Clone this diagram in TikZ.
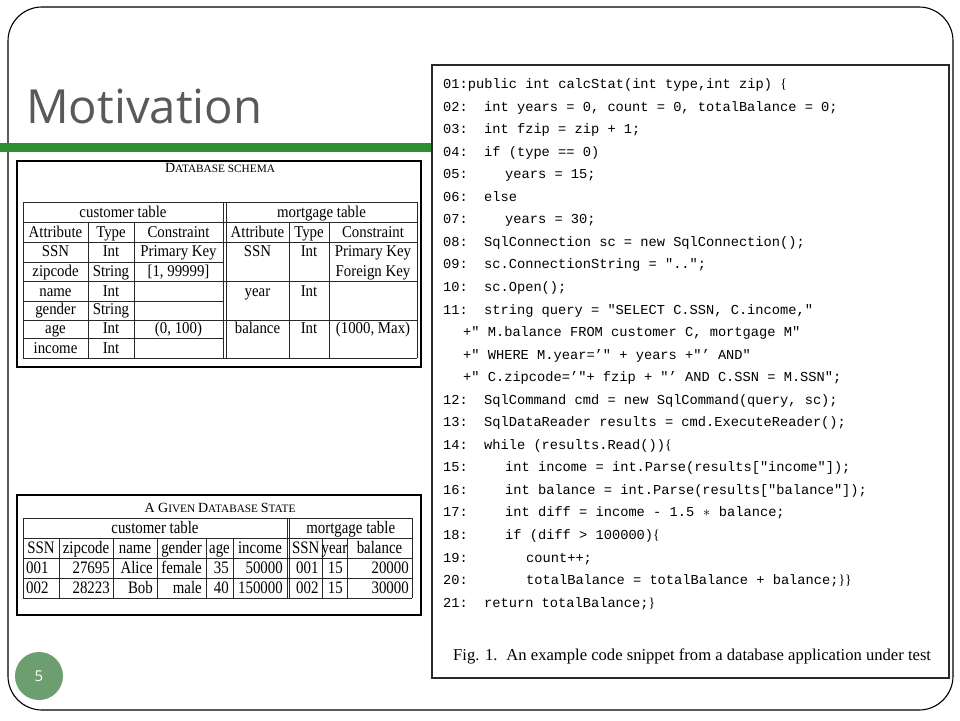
\documentclass[tikz,border=0pt]{standalone}
\usepackage{fontspec}
\usepackage{graphicx}
\setmainfont{Liberation Serif}
\newfontfamily\codefont{Liberation Mono}
\newfontfamily\titlefont{Open Sans}
\newfontfamily\seriffont{Liberation Serif}
\newcommand\cbL{{\seriffont\{}}
\newcommand\cbR{{\seriffont\}}}
\newcommand\sxa[1]{\scalebox{0.9}[1]{#1}}
\newcommand\sxb[1]{\scalebox{0.85}[1]{#1}}
\definecolor{titlegray}{RGB}{89,89,89}
\definecolor{bargreen}{RGB}{46,142,50}
\definecolor{pgreen}{RGB}{108,158,112}
\definecolor{rulecol}{RGB}{40,40,40}
\tikzset{
  codetxt/.style={anchor=base west, inner sep=0pt, font=\codefont\fontsize{13.7}{16}\selectfont},
  cellc/.style={anchor=base, inner sep=0pt, font=\fontsize{16.5}{19}\selectfont},
  statec/.style={anchor=base, inner sep=0pt, font=\fontsize{17.5}{20}\selectfont},
  statel/.style={anchor=base west, inner sep=0pt, font=\fontsize{17.5}{20}\selectfont},
  stater/.style={anchor=base east, inner sep=0pt, font=\fontsize{17.5}{20}\selectfont},
  tabrule/.style={draw=rulecol, line width=1pt},
  boxrule/.style={draw=black, line width=1.2pt},
}
\newcommand\codeline[4]{%
  \node[codetxt] (num#1) at (443,{88.5+22.55*#1}) {#2};
  \node[codetxt] (txt#1) at (#3,{88.5+22.55*#1}) {#4};}
\newcommand\contline[2]{%
  \node[codetxt] (txt#1) at (463,{88.5+22.55*#1}) {#2};}
\begin{document}
\begin{tikzpicture}[x=1pt,y=-1pt]
\useasboundingbox (0,0) rectangle (960,720);
\fill[white] (0,0) rectangle (960,720);
% slide frame
\draw[line width=1.1pt, rounded corners=34pt] (8,7) rectangle (953,710);
% title
\node[anchor=base west, inner sep=0pt, text=titlegray] (title) at (26,123)
  {\resizebox{236pt}{34.5pt}{\titlefont Motivation}};
% green bar
\fill[bargreen] (0,143) rectangle (432,152);
% code box
\draw[fill=white, draw=rulecol, line width=1.4pt] (432,65) rectangle (949,678);
% code
\node[codetxt] (txt0) at (443,88.5) {01:public int calcStat(int type,int zip) \cbL};
\codeline{1}{02:}{484}{int years = 0, count = 0, totalBalance = 0;}
\codeline{2}{03:}{484}{int fzip = zip + 1;}
\codeline{3}{04:}{484}{if (type == 0)}
\codeline{4}{05:}{505}{years = 15;}
\codeline{5}{06:}{484}{else}
\codeline{6}{07:}{505}{years = 30;}
\codeline{7}{08:}{484}{SqlConnection sc = new SqlConnection();}
\codeline{8}{09:}{484}{sc.ConnectionString = "..";}
\codeline{9}{10:}{484}{sc.Open();}
\codeline{10}{11:}{484}{string query = "SELECT C.SSN, C.income,"}
\contline{11}{+" M.balance FROM customer C, mortgage M"}
\contline{12}{+" WHERE M.year=’" + years +"’ AND"}
\contline{13}{+" C.zipcode=’"+ fzip + "’ AND C.SSN = M.SSN";}
\codeline{14}{12:}{484}{SqlCommand cmd = new SqlCommand(query, sc);}
\codeline{15}{13:}{484}{SqlDataReader results = cmd.ExecuteReader();}
\codeline{16}{14:}{484}{while (results.Read())\cbL}
\codeline{17}{15:}{505}{int income = int.Parse(results["income"]);}
\codeline{18}{16:}{505}{int balance = int.Parse(results["balance"]);}
\codeline{19}{17:}{505}{int diff = income - 1.5 \makebox[8.2pt]{$\ast$} balance;}
\codeline{20}{18:}{505}{if (diff > 100000)\cbL}
\codeline{21}{19:}{526}{count++;}
\codeline{22}{20:}{526}{totalBalance = totalBalance + balance;\cbR\cbR}
\codeline{23}{21:}{484}{return totalBalance;\cbR}
\node[anchor=base west, inner sep=0pt, font=\fontsize{16.6}{19}\selectfont] (caption) at (453,660)
  {Fig. 1.\hspace{9pt}An example code snippet from a database application under test};
% ---------------- database schema ----------------
\draw[boxrule] (17,161) rectangle (421,367);
\node[anchor=base, inner sep=0pt] (schematitle) at (220,172)
  {\fontsize{14}{16}\selectfont D\fontsize{11.3}{13}\selectfont ATABASE SCHEMA};
% horizontal rules
\draw[tabrule] (23,202) -- (417,202);
\draw[tabrule] (23,222.5) -- (417,222.5);
\draw[tabrule] (23,242.5) -- (417,242.5);
\draw[tabrule] (23,262.5) -- (223,262.5);
\draw[tabrule] (23,281.5) -- (417,281.5);
\draw[tabrule] (23,301.5) -- (223,301.5);
\draw[tabrule] (23,320) -- (417,320);
\draw[tabrule] (23,338.5) -- (223,338.5);
\draw[tabrule] (23,358) -- (417,358);
% vertical rules
\draw[tabrule] (23,202) -- (23,358);
\draw[tabrule] (223,202) -- (223,358);
\draw[tabrule] (226,202) -- (226,358);
\draw[tabrule] (417,202) -- (417,358);
\draw[tabrule] (88,222.5) -- (88,358);
\draw[tabrule] (134,222.5) -- (134,358);
\draw[tabrule] (289,222.5) -- (289,358);
\draw[tabrule] (329,222.5) -- (329,358);
% texts
\node[cellc] (sct) at (123,217.6) {\sxa{customer table}};
\node[cellc] (smt) at (321.5,217.6) {\sxa{mortgage table}};
\node[cellc] (sca) at (55.5,237.8) {\sxa{Attribute}};
\node[cellc] (scb) at (111,237.8) {\sxa{Type}};
\node[cellc] (scc) at (178.5,237.8) {\sxa{Constraint}};
\node[cellc] (sma) at (257.5,237.8) {\sxa{Attribute}};
\node[cellc] (smb) at (309,237.8) {\sxa{Type}};
\node[cellc] (smc) at (373,237.8) {\sxa{Constraint}};
\node[cellc] (s3a) at (55.5,256.8) {\sxa{SSN}};
\node[cellc] (s3b) at (111,256.8) {\sxa{Int}};
\node[cellc] (s3c) at (178.5,256.8) {\sxa{Primary Key}};
\node[cellc] (s3d) at (257.5,256.8) {\sxa{SSN}};
\node[cellc] (s3e) at (309,256.8) {\sxa{Int}};
\node[cellc] (s3f) at (373,256.8) {\sxa{Primary Key}};
\node[cellc] (s4a) at (55.5,276) {\sxa{zipcode}};
\node[cellc] (s4b) at (111,276) {\sxa{String}};
\node[cellc] (s4c) at (178.5,276) {\sxa{[1, 99999]}};
\node[cellc] (s4f) at (373,276) {\sxa{Foreign Key}};
\node[cellc] (s5a) at (55.5,296.2) {\sxa{name}};
\node[cellc] (s5b) at (111,296.2) {\sxa{Int}};
\node[cellc] (s5d) at (257.5,296.2) {\sxa{year}};
\node[cellc] (s5e) at (309,296.2) {\sxa{Int}};
\node[cellc] (s6a) at (55.5,314.4) {\sxa{gender}};
\node[cellc] (s6b) at (111,314.4) {\sxa{String}};
\node[cellc] (s7a) at (55.5,333.6) {\sxa{age}};
\node[cellc] (s7b) at (111,333.6) {\sxa{Int}};
\node[cellc] (s7c) at (178.5,333.6) {\sxa{(0, 100)}};
\node[cellc] (s7d) at (257.5,333.6) {\sxa{balance}};
\node[cellc] (s7e) at (309,333.6) {\sxa{Int}};
\node[cellc] (s7f) at (373,333.6) {\sxa{(1000, Max)}};
\node[cellc] (s8a) at (55.5,353.1) {\sxa{income}};
\node[cellc] (s8b) at (111,353.1) {\sxa{Int}};
% ---------------- database state ----------------
\draw[boxrule] (17,495) rectangle (421,615);
\node[anchor=base, inner sep=0pt] (statetitle) at (220,512)
  {\fontsize{14}{16}\selectfont A G\fontsize{11.3}{13}\selectfont IVEN \fontsize{14}{16}\selectfont D\fontsize{11.3}{13}\selectfont ATABASE \fontsize{14}{16}\selectfont S\fontsize{11.3}{13}\selectfont TATE};
\draw[tabrule] (23,518) -- (412,518);
\draw[tabrule] (23,538) -- (412,538);
\draw[tabrule] (23,558) -- (412,558);
\draw[tabrule] (23,578) -- (412,578);
\draw[tabrule] (23,598) -- (412,598);
\draw[tabrule] (23,518) -- (23,598);
\draw[tabrule] (287,518) -- (287,598);
\draw[tabrule] (289.5,518) -- (289.5,598);
\draw[tabrule] (412,518) -- (412,598);
\foreach \xx in {59,113,157,206,233,322,347}
  \draw[tabrule] (\xx,538) -- (\xx,598);
\node[statec] (tct) at (155,533.8) {\sxb{customer table}};
\node[statec] (tmt) at (350.75,533.8) {\sxb{mortgage table}};
\node[statec] (th1) at (41,553.8) {\sxb{SSN}};
\node[statec] (th2) at (86,553.8) {\sxb{zipcode}};
\node[statec] (th3) at (135,553.8) {\sxb{name}};
\node[statec] (th4) at (181.5,553.8) {\sxb{gender}};
\node[statec] (th5) at (219.5,553.8) {\sxb{age}};
\node[statec] (th6) at (260,553.8) {\sxb{income}};
\node[statec] (th7) at (305.75,553.8) {\sxb{SSN}};
\node[statec] (th8) at (334.5,553.8) {\sxb{year}};
\node[statec] (th9) at (379.5,553.8) {\sxb{balance}};
\node[statel] (ta1) at (26,573.8) {\sxb{001}};
\node[stater] (ta2) at (110,573.8) {\sxb{27695}};
\node[stater] (ta3) at (153,573.8) {\sxb{Alice}};
\node[stater] (ta4) at (202,573.8) {\sxb{female}};
\node[stater] (ta5) at (229,573.8) {\sxb{35}};
\node[stater] (ta6) at (283,573.8) {\sxb{50000}};
\node[statel] (ta7) at (296,573.8) {\sxb{001}};
\node[stater] (ta8) at (343,573.8) {\sxb{15}};
\node[stater] (ta9) at (409,573.8) {\sxb{20000}};
\node[statel] (tb1) at (26,593.8) {\sxb{002}};
\node[stater] (tb2) at (110,593.8) {\sxb{28223}};
\node[stater] (tb3) at (153,593.8) {\sxb{Bob}};
\node[stater] (tb4) at (202,593.8) {\sxb{male}};
\node[stater] (tb5) at (229,593.8) {\sxb{40}};
\node[stater] (tb6) at (283,593.8) {\sxb{150000}};
\node[statel] (tb7) at (296,593.8) {\sxb{002}};
\node[stater] (tb8) at (343,593.8) {\sxb{15}};
\node[stater] (tb9) at (409,593.8) {\sxb{30000}};
% page number
\node[circle, fill=pgreen, minimum size=48pt, inner sep=0pt, text=white,
  font=\titlefont\fontsize{15}{18}\selectfont] (pnum) at (39,676) {5};
\end{tikzpicture}
\end{document}
